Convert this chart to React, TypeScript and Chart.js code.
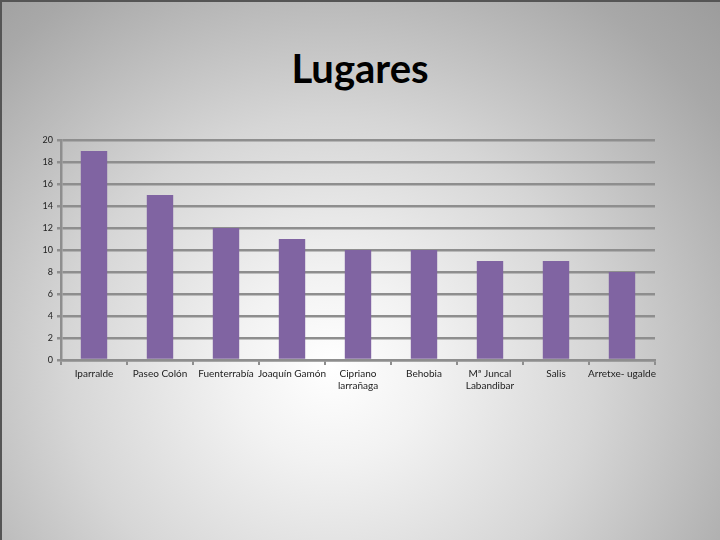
import React, { useEffect, useRef } from "react";
import { Chart, registerables } from "chart.js";

Chart.register(...registerables);

const categories: (string | string[])[] = [
  "Iparralde",
  "Paseo Colón",
  "Fuenterrabía",
  "Joaquín Gamón",
  ["Cipriano", "larrañaga"],
  "Behobia",
  ["Mª Juncal", "Labandibar"],
  "Salis",
  "Arretxe- ugalde",
];
const values: number[] = [19, 15, 12, 11, 10, 10, 9, 9, 8];
const yMin = 0;
const yMax = 20;
const yStep = 2;
const titleText = "Lugares";

export default function App() {
  const ref = useRef<HTMLCanvasElement | null>(null);
  useEffect(() => {
    if (!ref.current) return;
    const grid = "#8e8e8e";
    const chart = new Chart(ref.current, {
      type: "bar",
      data: {
        labels: categories,
        datasets: [
          {
            data: values,
            backgroundColor: "#8064a2",
            borderWidth: 0,
            barPercentage: 0.4,
            categoryPercentage: 1,
          },
        ],
      },
      options: {
        animation: false,
        responsive: false,
        maintainAspectRatio: false,
        layout: { padding: { left: 20, right: 65, top: 140, bottom: 120 } },
        plugins: {
          legend: { display: false },
          tooltip: { enabled: false },
          title: { display: false },
        },
        scales: {
          x: {
            offset: true,
            afterFit: (s: any) => {
              s.height = 60;
            },
            grid: {
              display: true,
              drawOnChartArea: false,
              drawTicks: true,
              tickLength: 5,
              color: grid,
              lineWidth: 2,
              offset: true,
            },
            border: { display: true, color: grid, width: 2.5 },
            ticks: {
              color: "#222",
              font: { family: "Lato", size: 10 },
              padding: 3,
              maxRotation: 0,
              autoSkip: false,
            },
          },
          y: {
            min: yMin,
            max: yMax,
            afterFit: (s: any) => {
              s.width = 41;
            },
            grid: {
              color: grid,
              lineWidth: 2.5,
              tickLength: 4,
            },
            border: { display: true, color: grid, width: 2.5 },
            ticks: {
              stepSize: yStep,
              color: "#222",
              font: { family: "Lato", size: 9 },
              padding: 4,
            },
          },
        },
      },
    });
    return () => chart.destroy();
  }, []);

  return (
    <div
      style={{
        position: "absolute",
        left: 0,
        top: 0,
        width: 720,
        height: 540,
        background:
          "radial-gradient(ellipse farthest-corner at 46% 68%, #ffffff 0%, #f2f2f2 18%, #d6d6d6 48%, #a8a8a8 85%, #9c9c9c 100%)",
        boxShadow: "inset 2px 2px 0 #555",
      }}
    >
      <div
        style={{
          position: "absolute",
          left: 0,
          top: 40,
          width: 720,
          textAlign: "center",
          fontFamily: "Lato",
          fontWeight: "bold",
          fontSize: 40,
          lineHeight: "56px",
          color: "#000",
        }}
      >
        {titleText}
      </div>
      <canvas
        ref={ref}
        width={720}
        height={540}
        style={{ display: "block", position: "absolute", left: 0, top: 0 }}
      />
    </div>
  );
}
